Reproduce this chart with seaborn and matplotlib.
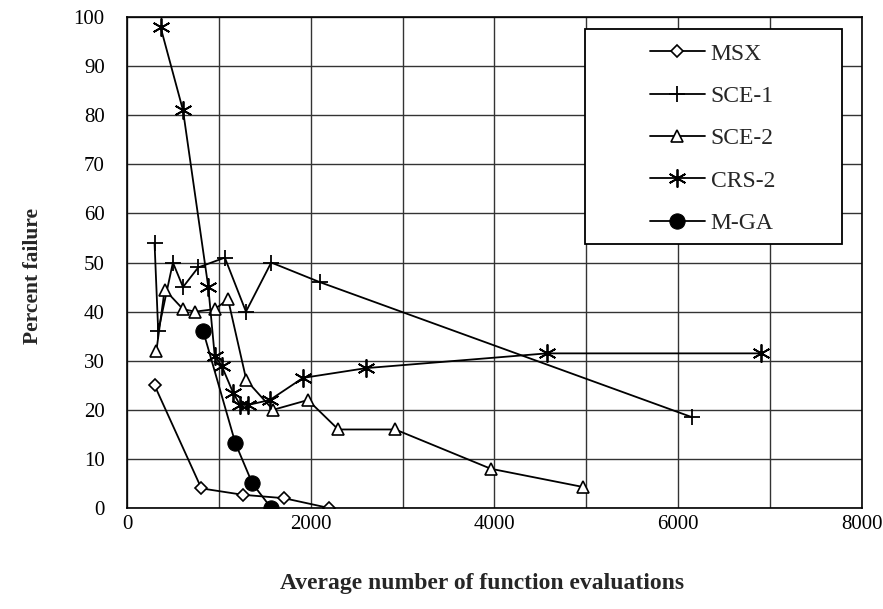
import pandas as pd
import matplotlib.pyplot as plt
import seaborn as sns
from matplotlib.patches import Rectangle

# Values
msx_x = [300, 810, 1260, 1710, 2200]
msx_y = [25, 4, 2.7, 2, 0]

sce1_x = [300, 340, 500, 610, 775, 1065, 1295, 1570, 2100, 6150]
sce1_y = [54, 36, 50, 45, 49, 51, 40, 50, 46, 18.5]

sce2_x = [320, 410, 610, 740, 955, 1100, 1300, 1590, 1970, 2300, 2920, 3960, 4960]
sce2_y = [32, 44.5, 40.5, 40, 40.5, 42.5, 26, 20, 22, 16, 16, 8, 4.3]

crs2_x = [365, 610, 885, 955, 1030, 1155, 1230, 1320, 1555, 1915, 2605, 4570, 6900]
crs2_y = [98, 81, 45, 31, 29, 23.5, 21, 21, 22, 26.5, 28.5, 31.5, 31.5]

mga_x = [830, 1180, 1365, 1570]
mga_y = [36, 13.2, 5, 0]

series_names = ["MSX", "SCE-1", "SCE-2", "CRS-2", "M-GA"]

sns.set_theme(style="whitegrid")
plt.rcParams['font.family'] = ['Liberation Serif', 'DejaVu Serif']

fig = plt.figure(figsize=(8.83, 6.09), dpi=100)
ax = fig.add_axes([0.1438, 0.1658, 0.8324, 0.8062])

# Marker style for each series
styles = {
    "MSX": dict(marker="D", markersize=6, markerfacecolor="white", markeredgecolor="black", markeredgewidth=1.2),
    "SCE-1": dict(marker="+", markersize=12, markeredgecolor="black", markeredgewidth=1.3),
    "SCE-2": dict(marker="^", markersize=9, markerfacecolor="white", markeredgecolor="black", markeredgewidth=1.2),
    "CRS-2": dict(marker=(6, 2, 0), markersize=13, markeredgecolor="black", markeredgewidth=1.3),
    "M-GA": dict(marker="o", markersize=11, markerfacecolor="black", markeredgecolor="black"),
}

data = {
    "MSX": (msx_x, msx_y),
    "SCE-1": (sce1_x, sce1_y),
    "SCE-2": (sce2_x, sce2_y),
    "CRS-2": (crs2_x, crs2_y),
    "M-GA": (mga_x, mga_y),
}

for name in series_names:
    xs, ys = data[name]
    df = pd.DataFrame({"x": xs, "y": ys})
    sns.lineplot(data=df, x="x", y="y", ax=ax, sort=False, estimator=None,
                 color="black", linewidth=1.3, label=name, **styles[name])

ax.set_xlim(0, 8000)
ax.set_ylim(0, 100)
ax.set_xticks([0, 2000, 4000, 6000, 8000])
ax.set_xticks(range(0, 8001, 1000), minor=True)
ax.set_yticks(range(0, 101, 10))

ax.set_facecolor("white")
ax.grid(which="both", color="#333333", linewidth=1.0)
for sp in ax.spines.values():
    sp.set_color("black")
    sp.set_linewidth(1.2)
ax.tick_params(axis="both", which="both", length=0, labelsize=15, colors="black")
ax.tick_params(axis="x", pad=5)
ax.tick_params(axis="y", pad=16)

ax.set_xlabel("Average number of function evaluations", fontsize=17, fontweight="bold")
ax.set_ylabel("Percent failure", fontsize=15.5, fontweight="bold")
ax.xaxis.set_label_coords(0.483, -0.133)
ax.yaxis.set_label_coords(-0.114, 0.473)

# Legend frame drawn as a box, entries placed inside without their own frame
ax.add_patch(Rectangle((0.623, 0.537), 0.350, 0.439, transform=ax.transAxes,
                       facecolor="white", edgecolor="black", linewidth=1.3, zorder=5))
leg = ax.legend(loc="upper left", bbox_to_anchor=(0.712, 0.947), fontsize=17,
                frameon=False, borderpad=0, labelspacing=0.88, handlelength=2.3,
                handletextpad=0.25, borderaxespad=0)
leg.set_zorder(6)

fig.savefig("out.png", dpi=100)
